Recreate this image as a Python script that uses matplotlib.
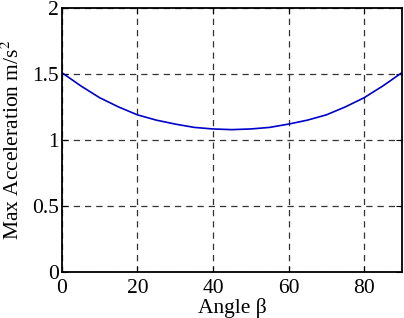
import numpy as np
import matplotlib.pyplot as plt

plt.rcParams['font.family'] = ['Liberation Serif', 'DejaVu Serif']
plt.rcParams['mathtext.fontset'] = 'stix'

# values
angle = [0, 5, 10, 15, 20, 25, 30, 35, 40, 45, 50, 55, 60, 65, 70, 75, 80, 85, 90]
max_acc = [1.51, 1.41, 1.32, 1.25, 1.19, 1.15, 1.12, 1.095, 1.083, 1.078,
           1.083, 1.095, 1.12, 1.15, 1.19, 1.25, 1.32, 1.41, 1.51]

x_ticks = [0, 20, 40, 60, 80]
y_ticks = [0, 0.5, 1, 1.5, 2]

fig = plt.figure(figsize=(4.04, 3.18), dpi=100)
ax = fig.add_axes([0.153, 0.145, 0.842, 0.83])

ax.plot(angle, max_acc, color='#0000cc', linewidth=1.2)

ax.set_xlim(0, 90)
ax.set_ylim(0, 2)
ax.set_xticks(x_ticks)
ax.set_yticks(y_ticks)
ax.set_yticklabels(['0', '0.5', '1', '1.5', '2'])
ax.grid(True, color='#333333', linestyle=(0, (5, 4)), linewidth=0.9)
ax.tick_params(direction='in', length=4, labelsize=15.5, top=True, right=True)
ax.tick_params(axis='x', pad=5)
ax.tick_params(axis='y', pad=2)
for s in ax.spines.values():
    s.set_linewidth(1.3)

ax.set_xlabel('Angle β', fontsize=15.5, labelpad=0)
ax.set_ylabel('Max Acceleration m/s$^2$', fontsize=15.5, labelpad=6)

fig.savefig('out.png', dpi=100)
